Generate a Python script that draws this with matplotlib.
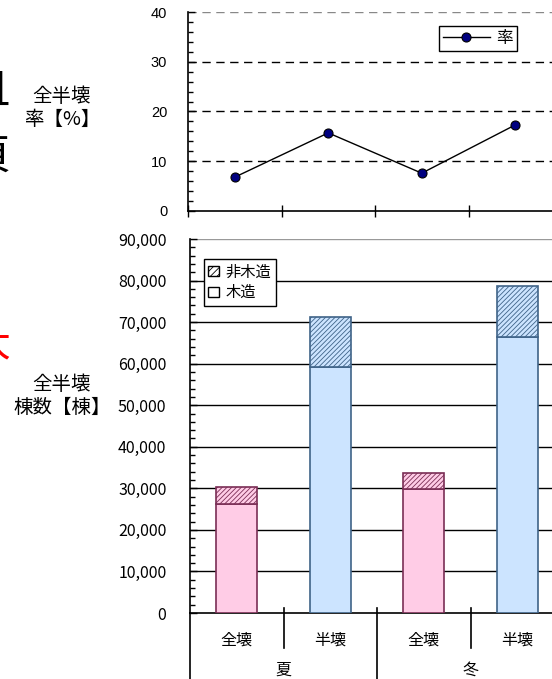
import numpy as np
import matplotlib
matplotlib.use('Agg')
import matplotlib.pyplot as plt
import matplotlib.transforms as mtransforms
from matplotlib.patches import Patch
from matplotlib.ticker import MultipleLocator, FuncFormatter

plt.rcParams['font.family'] = ['Noto Sans CJK JP', 'DejaVu Sans']
plt.rcParams['hatch.linewidth'] = 0.6

# data
categories = ['全壊', '半壊', '全壊', '半壊']
seasons = ['夏', '冬']
rate = [6.8, 15.7, 7.6, 17.3]
wood = [26200, 59100, 29800, 66500]
nonwood = [4200, 12200, 3800, 12300]

fill_colors = ['#FFCCE6', '#CCE4FF', '#FFCCE6', '#CCE4FF']
edge_colors = ['#7A2E55', '#3F6388', '#7A2E55', '#3F6388']

W, H = 552, 679
fig = plt.figure(figsize=(W / 100, H / 100), dpi=100)

x = np.arange(len(categories))
bounds = np.arange(len(categories) + 1) - 0.5

# ---------------- top: rate ----------------
ax1 = fig.add_axes([188 / W, 1 - 211 / H, 374 / W, 199 / H])
ax1.set_xlim(-0.5, 3.5)
ax1.set_ylim(0, 40)
for v in [10, 20, 30]:
    ax1.axhline(v, color='black', lw=1, ls=(0, (6, 4)), zorder=1)
ax1.axhline(40, color='#888888', lw=1, ls=(0, (6, 4)), zorder=1)
ax1.plot(x, rate, color='black', lw=1, marker='o', ms=6.5,
         mfc='#000080', mec='black', mew=0.8, label='率', zorder=3)

ax1.spines['top'].set_visible(False)
ax1.spines['right'].set_visible(False)
ax1.spines['left'].set_linewidth(1.2)
ax1.spines['bottom'].set_linewidth(1.2)
ax1.yaxis.set_major_locator(MultipleLocator(10))
ax1.yaxis.set_minor_locator(MultipleLocator(2))
ax1.tick_params(axis='y', which='major', direction='in', length=5, width=1,
                pad=15, labelsize=10.5)
ax1.tick_params(axis='y', which='minor', direction='in', length=3.5, width=1)
for lab in ax1.get_yticklabels():
    lab.set_family(['Liberation Sans', 'DejaVu Sans'])
ax1.set_xticks(bounds[:-1])
ax1.tick_params(axis='x', direction='inout', length=8, width=1, labelbottom=False)

leg1 = ax1.legend(loc='upper right', bbox_to_anchor=(0.88, 0.93), borderaxespad=0,
                  fancybox=False, framealpha=1, edgecolor='black', fontsize=12,
                  handlelength=2.8, handletextpad=0.4, borderpad=0.25)
leg1.get_frame().set_linewidth(1)

# ---------------- bottom: counts ----------------
ax2 = fig.add_axes([190 / W, 1 - 613 / H, 374 / W, 374 / H])
ax2.set_xlim(-0.5, 3.5)
ax2.set_ylim(0, 90000)
for v in range(10000, 90000, 10000):
    ax2.axhline(v, color='black', lw=1, zorder=1)
ax2.axhline(90000, color='#999999', lw=1, zorder=1)

ax2.bar(x, wood, width=0.44, color=fill_colors, edgecolor=edge_colors,
        linewidth=1.2, zorder=3)
ax2.bar(x, nonwood, bottom=wood, width=0.44, color=fill_colors,
        edgecolor=edge_colors, linewidth=1.2, hatch='///////', zorder=3)

ax2.spines['top'].set_visible(False)
ax2.spines['right'].set_visible(False)
ax2.spines['left'].set_linewidth(1.2)
ax2.spines['bottom'].set_linewidth(1.2)
ax2.yaxis.set_major_locator(MultipleLocator(10000))
ax2.yaxis.set_minor_locator(MultipleLocator(2000))
ax2.yaxis.set_major_formatter(FuncFormatter(lambda v, p: f'{int(v):,}'))
ax2.tick_params(axis='y', which='major', direction='in', length=5, width=1,
                pad=17, labelsize=11.5)
ax2.tick_params(axis='y', which='minor', direction='in', length=3.5, width=1)
ax2.set_xticks([])

# two-level category axis
trans = mtransforms.blended_transform_factory(ax2.transData, ax2.transAxes)
ax2.plot([bounds[0], bounds[0]], [0, -0.2], color='black', lw=1.2,
         transform=trans, clip_on=False)
for i, b in enumerate(bounds[1:-1]):
    low = -0.2 if i == 1 else -0.094
    ax2.plot([b, b], [0.013, low], color='black', lw=1.2,
             transform=trans, clip_on=False)
for xi, c in zip(x, categories):
    ax2.text(xi, -0.072, c, transform=trans, ha='center', va='center', fontsize=11.5)
for j, s in enumerate(seasons):
    ax2.text(x[2 * j:2 * j + 2].mean(), -0.152, s, transform=trans,
             ha='center', va='center', fontsize=11.5)

handles = [Patch(facecolor='white', edgecolor='black', hatch='/////', label='非木造'),
           Patch(facecolor='white', edgecolor='black', label='木造')]
leg2 = ax2.legend(handles=handles, loc='upper left', bbox_to_anchor=(0.037, 0.947),
                  borderaxespad=0, fancybox=False, framealpha=1, edgecolor='black',
                  fontsize=11, handlelength=0.7, handleheight=0.7,
                  handletextpad=0.4, borderpad=0.3, labelspacing=0.25)
leg2.get_frame().set_linewidth(1)

# axis titles on the left
fig.text(62 / W, 1 - 108 / H, '全半壊\n率【%】', ha='center', va='center',
         fontsize=14, linespacing=1.1)
fig.text(62 / W, 1 - 396 / H, '全半壊\n棟数【棟】', ha='center', va='center',
         fontsize=14, linespacing=1.1)

# cut-off text from the neighbouring slide content
fig.text(10 / W, 1 - 92 / H, '且', ha='right', va='center', fontsize=30)
fig.text(10 / W, 1 - 158 / H, '頁', ha='right', va='center', fontsize=30)
fig.text(10 / W, 1 - 345 / H, '大', ha='right', va='center', fontsize=28,
         color='red')

plt.savefig('out.png', dpi=100)
